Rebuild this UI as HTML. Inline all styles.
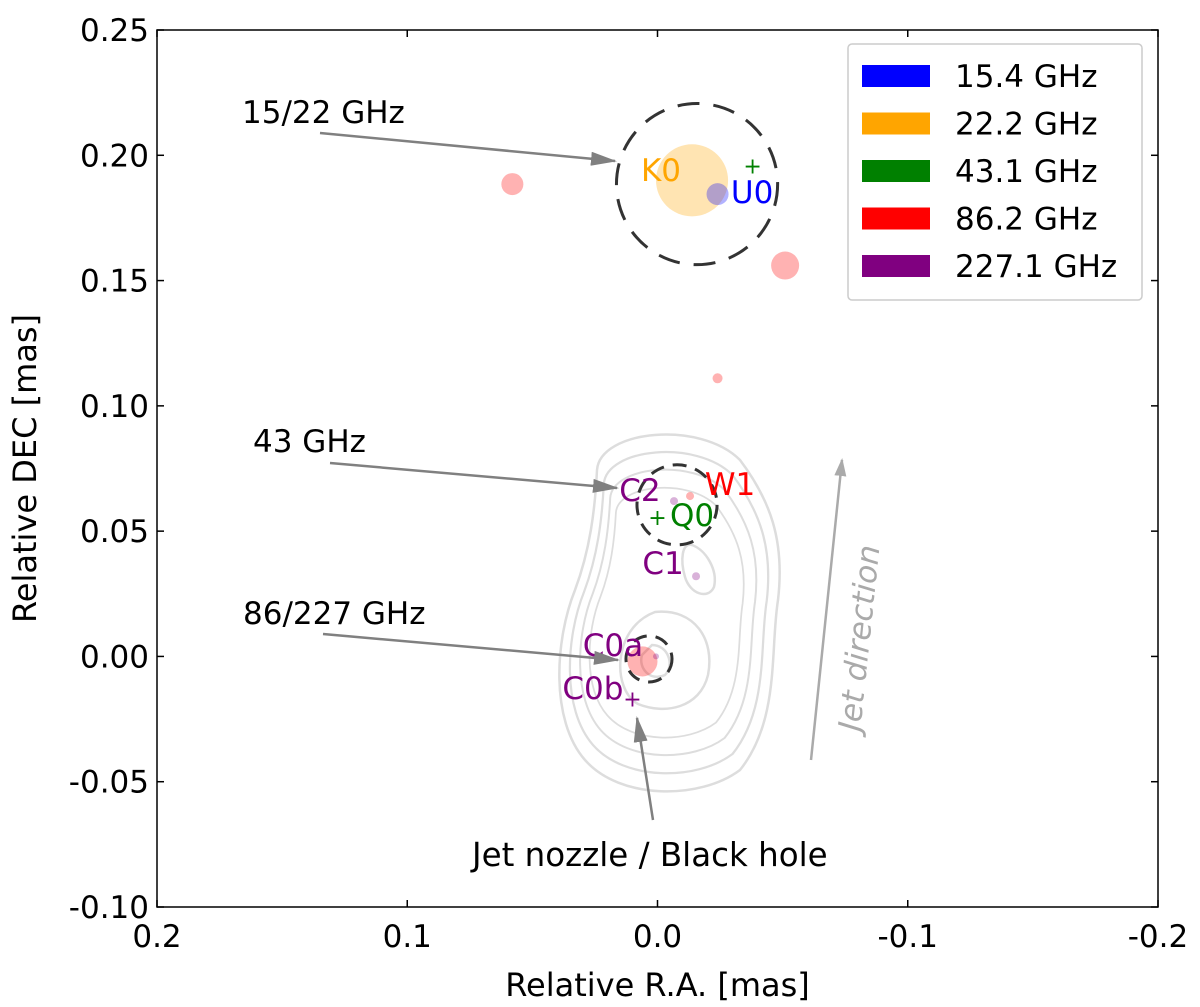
<!DOCTYPE html>
<html><head><meta charset="utf-8"><style>body{margin:0;background:#fff}svg{display:block;font-family:"DejaVu Sans","Liberation Sans",sans-serif}</style></head>
<body>
<svg id="chart" width="1200" height="1007" viewBox="0 0 1200 1007">
<g id="contours" fill="none" stroke="#ddd" stroke-width="2.5">
<path id="c0" d="M597,470 C600,430 700,420 740,460 C770,500 785,540 778,600 C770,650 780,720 740,770 C700,800 620,800 585,760 C550,720 555,640 575,590 C590,550 595,510 597,470Z"/>
<use href="#c0" transform="translate(665,610) scale(0.9) translate(-665,-610)"/>
<use href="#c0" transform="translate(663,610) scale(0.8) translate(-663,-610)"/>
<use href="#c0" transform="translate(660,612) scale(0.7) translate(-660,-612)"/>
<path d="M655,612 C695,608 715,640 708,675 C700,708 665,715 638,704 C612,690 612,628 655,612Z"/>
<path d="M692,545 C706,550 718,570 714,587 C708,600 690,594 685,577 C680,560 682,542 692,545Z"/>
<path d="M652,645 C668,645 675,665 665,675 C650,682 638,668 642,655Z"/>
</g>
<g id="plot"></g>
<g id="axes"></g>
<g font-size="31" fill="#000">
<text x="242" y="123">15/22 GHz</text>
<text x="253" y="452">43 GHz</text>
<text x="243" y="624">86/227 GHz</text>
<text x="472" y="866" font-size="32.5">Jet nozzle / Black hole</text>
<text transform="translate(860,732) rotate(-84)" fill="#aaa" font-style="italic">Jet direction</text>
</g>
<defs>
<marker id="ah2" markerWidth="26" markerHeight="14" refX="24" refY="7" orient="auto" markerUnits="userSpaceOnUse"><path d="M0,0 L26,7 L0,14 Z" fill="#808080"/></marker>
<marker id="ah3" markerWidth="18" markerHeight="12" refX="16" refY="6" orient="auto" markerUnits="userSpaceOnUse"><path d="M0,0 L18,6 L0,12 Z" fill="#aaa"/></marker></defs>
<g stroke="#808080" stroke-width="2.5">
<line x1="320" y1="133" x2="615" y2="161" marker-end="url(#ah2)"/>
<line x1="330" y1="463" x2="617" y2="488" marker-end="url(#ah2)"/>
<line x1="323" y1="634" x2="618" y2="660" marker-end="url(#ah2)"/>
<line x1="653" y1="820" x2="637" y2="718" marker-end="url(#ah2)"/>
<line x1="811" y1="760" x2="842" y2="460" stroke="#aaa" marker-end="url(#ah3)"/>
</g>
<g id="legend"></g>
</svg>
<script>
const NS='http://www.w3.org/2000/svg';
const L=157,R=1158,T=30,B=907;
const xMin=0.2,xMax=-0.2,yMin=-0.10,yMax=0.25;
function X(v){return L+(v-xMin)/(xMax-xMin)*(R-L);}
function Y(v){return B-(v-yMin)/(yMax-yMin)*(B-T);}
function mk(tag,attrs,parent){const e=document.createElementNS(NS,tag);for(const k in attrs)e.setAttribute(k,attrs[k]);parent.appendChild(e);return e;}
const xTicks=[0.2,0.1,0.0,-0.1,-0.2];
const xTickLabels=['0.2','0.1','0.0','-0.1','-0.2'];
const yTicks=[0.25,0.20,0.15,0.10,0.05,0.00,-0.05,-0.10];
const yTickLabels=['0.25','0.20','0.15','0.10','0.05','0.00','-0.05','-0.10'];
const compNames=['K0','U0','R-a','R-b','R-c','W1','C0-red','C2','C1','C0a'];
const compRA=[-0.0138,-0.024,0.058,-0.051,-0.024,-0.013,0.006,-0.0066,-0.0154,0.0006];
const compDEC=[0.190,0.1845,0.1885,0.156,0.111,0.064,-0.002,0.062,0.032,0.0];
const compSize=[0.0144,0.0044,0.0044,0.0056,0.002,0.0016,0.006,0.0016,0.0016,0.0012];
const compColor=['rgba(255,165,0,0.3)','rgba(0,0,255,0.3)','rgba(255,0,0,0.3)','rgba(255,0,0,0.3)','rgba(255,0,0,0.3)','rgba(255,0,0,0.3)','rgba(255,0,0,0.3)','rgba(128,0,128,0.3)','rgba(128,0,128,0.3)','rgba(128,0,128,0.3)'];
const crossRA=[0.0,-0.038,0.010];
const crossDEC=[0.0557,0.196,-0.0168];
const crossColor=['green','green','purple'];
const ringRA=[-0.0158,-0.0078,0.0034];
const ringDEC=[0.1885,0.0605,-0.001];
const ringR=[0.0322,0.016,0.0092];
const labelText=['K0','U0','C2','W1','Q0','C1','C0a','C0b'];
const labelRA=[-0.0014,-0.0378,0.007,-0.029,-0.0138,-0.0022,0.0178,0.0258];
const labelDEC=[0.1941,0.1853,0.0664,0.0688,0.0564,0.0373,0.0046,-0.0126];
const labelColor=['orange','blue','purple','red','green','purple','purple','purple'];
const legendLabels=['15.4 GHz','22.2 GHz','43.1 GHz','86.2 GHz','227.1 GHz'];
const legendColors=['blue','orange','green','red','purple'];
const plot=document.getElementById('plot');
const pxPerMas=(R-L)/0.4;
compRA.forEach((ra,i)=>{const c=mk('circle',{cx:X(ra),cy:Y(compDEC[i]),r:compSize[i]*pxPerMas,fill:compColor[i]},plot);

});
ringRA.forEach((ra,i)=>{const c=mk('circle',{cx:X(ra),cy:Y(ringDEC[i]),r:ringR[i]*pxPerMas,fill:'none',stroke:'#333','stroke-width':3,'stroke-dasharray':i==0?'22,14':'14,9'},plot);

});
crossRA.forEach((ra,i)=>{const t=mk('text',{x:X(ra),y:Y(crossDEC[i])+8,'font-size':22,fill:crossColor[i],'text-anchor':'middle'},plot);t.textContent='+';

});
labelText.forEach((s,i)=>{const t=mk('text',{x:X(labelRA[i]),y:Y(labelDEC[i])+11,'font-size':31,fill:labelColor[i],'text-anchor':'middle'},plot);t.textContent=s;

});
const ax=document.getElementById('axes');
mk('rect',{x:L,y:T,width:R-L,height:B-T,fill:'none',stroke:'#000','stroke-width':1.5},ax);
xTicks.forEach((v,i)=>{const x=X(v);
mk('line',{x1:x,y1:B,x2:x,y2:B-7,stroke:'#000','stroke-width':1.5},ax);
mk('line',{x1:x,y1:T,x2:x,y2:T+7,stroke:'#000','stroke-width':1.5},ax);
const t=mk('text',{x:x,y:B+40,'font-size':31,'text-anchor':'middle'},ax);t.textContent=xTickLabels[i];

});
yTicks.forEach((v,i)=>{const y=Y(v);
mk('line',{x1:L,y1:y,x2:L+7,y2:y,stroke:'#000','stroke-width':1.5},ax);
mk('line',{x1:R,y1:y,x2:R-7,y2:y,stroke:'#000','stroke-width':1.5},ax);
const t=mk('text',{x:L-8,y:y+11,'font-size':31,'text-anchor':'end'},ax);t.textContent=yTickLabels[i];

});
let t=mk('text',{x:(L+R)/2,y:996,'font-size':32,'text-anchor':'middle'},ax);t.textContent='Relative R.A. [mas]';


t=mk('text',{transform:'translate(36,'+((T+B)/2)+') rotate(-90)','font-size':32,'text-anchor':'middle'},ax);t.textContent='Relative DEC [mas]';


const lg=document.getElementById('legend');
mk('rect',{x:848,y:44,width:294,height:256,rx:4,fill:'#fff',stroke:'#ccc','stroke-width':1.5},lg);
legendLabels.forEach((s,i)=>{const cy=76+i*47.5;
const r=mk('rect',{x:862,y:cy-11,width:68,height:22,fill:legendColors[i]},lg);


const tx=mk('text',{x:955,y:cy+11,'font-size':31},lg);tx.textContent=s;

});
</script>
</body></html>
